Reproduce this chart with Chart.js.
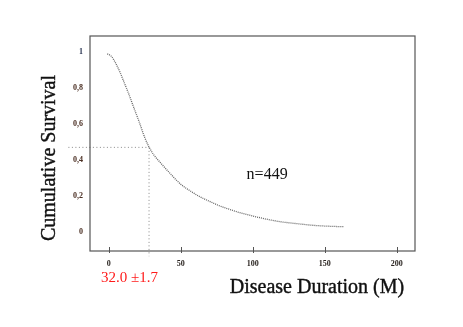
<!DOCTYPE html>
<html>
<head>
<meta charset="utf-8">
<script src="https://cdn.jsdelivr.net/npm/chart.js@4"></script>
<style>
  html, body { margin: 0; padding: 0; background: #fff; }
  #wrap { width: 463px; height: 327px; }
</style>
</head>
<body>
<div id="wrap"><canvas id="survChart" width="463" height="327"></canvas></div>
<script>
// survival curve (months, cumulative survival)
const survTime = [-1, 2, 5, 8, 10, 14, 17, 21, 25, 28, 31, 36, 43, 50, 57, 63, 70, 77, 86, 91, 98, 105, 112, 119, 126, 133, 140, 147, 155, 163];
const survProb = [0.99, 0.975, 0.935, 0.885, 0.845, 0.765, 0.70, 0.615, 0.525, 0.472, 0.432, 0.384, 0.322, 0.265, 0.226, 0.197, 0.17, 0.145, 0.12, 0.107, 0.093, 0.079, 0.067, 0.057, 0.05, 0.044, 0.038, 0.034, 0.031, 0.029];

const xTicks = [0, 50, 100, 150, 200];
const yTicks = [0, 0.2, 0.4, 0.6, 0.8, 1];

// median guide lines
const medianTime = 28;
const medianProb = 0.47;
const guideStartX = -28;
const guideEndY = -0.135;

const medianLabel = '32.0 \u00b11.7';
const countLabel = 'n=449';

const canvas = document.getElementById('survChart');

const boxPlugin = {
  id: 'boxPlugin',
  afterDraw(chart) {
    const ctx = chart.ctx;
    const a = chart.chartArea;
    const xs = chart.scales.x;
    ctx.save();
    ctx.strokeStyle = '#555';
    ctx.lineWidth = 1.2;
    ctx.strokeRect(a.left, a.top, a.right - a.left, a.bottom - a.top);

    ctx.lineWidth = 1;
    xTicks.forEach(v => {
      const px = Math.round(xs.getPixelForValue(v)) + 0.5;
      ctx.beginPath();
      ctx.moveTo(px, a.bottom - 4);
      ctx.lineTo(px, a.bottom + 2);
      ctx.stroke();
    });

    ctx.textAlign = 'center';
    ctx.textBaseline = 'middle';
    ctx.fillStyle = '#111';
    ctx.font = '16px "Liberation Serif", serif';
    ctx.fillText(countLabel, xs.getPixelForValue(110), chart.scales.y.getPixelForValue(0.32));

    ctx.font = '15px "Liberation Serif", serif';
    ctx.fillStyle = '#ff1a1a';
    ctx.fillText(medianLabel, 129.5, 278);

    ctx.fillStyle = '#111';
    ctx.strokeStyle = '#111';
    ctx.lineWidth = 0.4;
    ctx.font = '20px "Liberation Serif", serif';
    ctx.fillText('Disease Duration (M)', 317, 288);
    ctx.strokeText('Disease Duration (M)', 317, 288);

    ctx.translate(50, 158);
    ctx.rotate(-Math.PI / 2);
    ctx.fillText('Cumulative Survival', 0, 0);
    ctx.strokeText('Cumulative Survival', 0, 0);
    ctx.restore();
  }
};

new Chart(canvas, {
  type: 'line',
  data: {
    datasets: [
      {
        data: survTime.map((t, i) => ({ x: t, y: survProb[i] })),
        borderColor: '#666',
        borderWidth: 1.3,
        borderDash: [1, 1],
        pointRadius: 0,
        cubicInterpolationMode: 'monotone'
      },
      {
        data: [{ x: guideStartX, y: medianProb }, { x: medianTime, y: medianProb }],
        borderColor: '#888',
        borderWidth: 1,
        borderDash: [1, 2.5],
        pointRadius: 0,
        clip: false
      },
      {
        data: [{ x: medianTime, y: medianProb }, { x: medianTime, y: guideEndY }],
        borderColor: '#888',
        borderWidth: 1,
        borderDash: [1, 2.5],
        pointRadius: 0,
        clip: false
      }
    ]
  },
  options: {
    responsive: false,
    animation: false,
    layout: { padding: { left: 60, top: 36, right: 48, bottom: 0 } },
    plugins: { legend: { display: false }, tooltip: { enabled: false } },
    scales: {
      x: {
        type: 'linear',
        min: -13,
        max: 212.7,
        afterFit: s => { s.height = 76; },
        afterBuildTicks: s => { s.ticks = xTicks.map(v => ({ value: v })); },
        grid: { display: false, drawTicks: false },
        border: { display: false },
        ticks: {
          padding: 8,
          color: '#2a2420',
          font: { family: '"Liberation Serif", serif', size: 8, weight: 'bold' },
          callback: v => String(v)
        }
      },
      y: {
        type: 'linear',
        min: -0.106,
        max: 1.089,
        afterFit: s => { s.width = 30; },
        afterBuildTicks: s => { s.ticks = yTicks.map(v => ({ value: v })); },
        grid: { display: false, drawTicks: false },
        border: { display: false },
        ticks: {
          padding: 7,
          color: c => (c.tick && c.tick.value === 1 ? '#2a3552' : '#4a2e22'),
          font: { family: '"Liberation Serif", serif', size: 8, weight: 'bold' },
          callback: v => (v === 0 ? '0' : v === 1 ? '1' : String(+v.toFixed(1)).replace('.', ','))
        }
      }
    }
  },
  plugins: [boxPlugin]
});
</script>
</body>
</html>
